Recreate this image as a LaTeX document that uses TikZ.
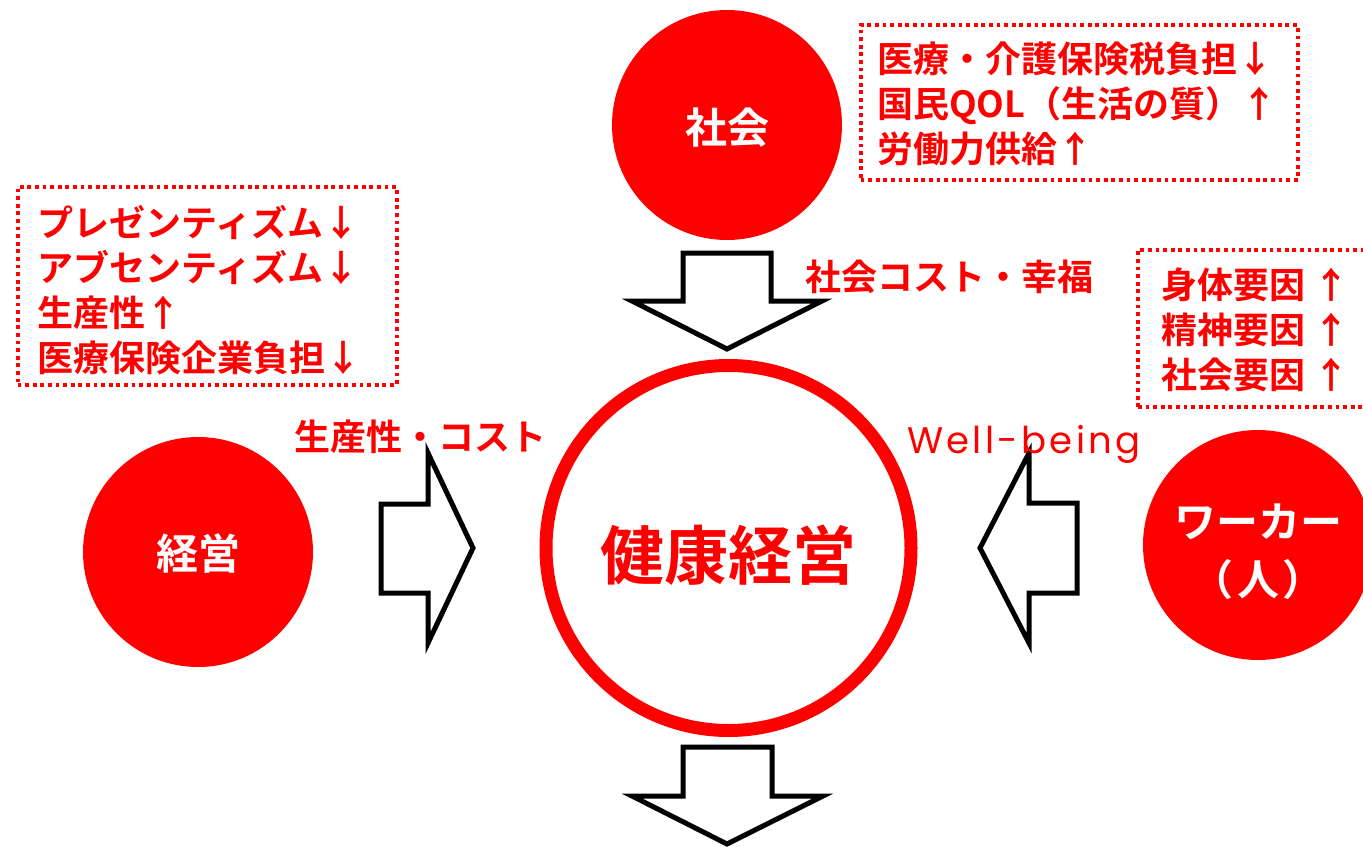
\documentclass[tikz,border=0pt]{standalone}
\usepackage{fontspec}
\newfontfamily\jp{Noto Sans CJK JP}[BoldFont={Noto Sans CJK JP Bold}]
\newfontfamily\wb{Poppins}[LetterSpace=9]
\definecolor{pr}{RGB}{255,0,0}
\begin{document}
\begin{tikzpicture}[x=1pt,y=-1pt,
  disc/.style={circle,fill=pr,inner sep=0pt,minimum size=230pt},
  ring/.style={circle,draw=pr,line width=13pt,inner sep=0pt,minimum size=365pt},
  wtxt/.style={text=white,font=\jp\bfseries\fontsize{42}{58}\selectfont,align=center},
  rtxt/.style={text=pr,font=\jp\bfseries\fontsize{36}{45}\selectfont,align=left,inner sep=0pt},
  dbox/.style={draw=pr,line width=4pt,dash pattern=on 3.8pt off 3.8pt,inner sep=0pt},
  blk/.style={draw=black,line width=5pt,fill=white,line join=miter,miter limit=10}]
\useasboundingbox (0,0) rectangle (1363,851);
% circles
\node[disc] (soc) at (727,125) {};
\node[wtxt] (soct) at (727,128) {社会};
\node[disc] (mgmt) at (198,552) {};
\node[wtxt] (mgmtt) at (198,554) {経営};
\node[disc] (wk) at (1258,545) {};
\node[wtxt] (wkt) at (1258,552) {ワーカー\\（\kern4pt 人\kern4pt）};
\node[ring] (core) at (728.5,548) {};
\node[text=pr,font=\jp\bfseries\fontsize{64}{70}\selectfont] (coret) at (728,555) {健康経営};
% block arrows
\draw[blk] (683,253) -- (771,253) -- (771,301) -- (822,301) -- (727,349) -- (632,301) -- (683,301) -- cycle;
\draw[blk] (683,747) -- (772,747) -- (772,796) -- (823,796) -- (727,844) -- (632,796) -- (683,796) -- cycle;
\draw[blk] (381,504) -- (428,504) -- (428,453) -- (473,548) -- (428,643) -- (428,593) -- (381,593) -- cycle;
\draw[blk] (1077,503) -- (1029,503) -- (1029,453) -- (980,548) -- (1029,643) -- (1029,593) -- (1077,593) -- cycle;
% labels
\node[rtxt,anchor=west] (lsoc) at (805,277) {社会コスト・幸福};
\node[rtxt,anchor=west] (lmgmt) at (294,437) {生産性・コスト};
\node[text=pr,font=\wb\fontsize{37}{40}\selectfont,anchor=base west,inner sep=0pt] (lwb) at (907,453) {Well-being};
% dotted boxes
\node[dbox,minimum width=437pt,minimum height=155pt] (b1) at (1079,102.5) {};
\node[rtxt,anchor=west] (t1) at (877,104) {医療・介護保険税負担↓\\国民QOL（生活の質）↑\\労働力供給↑};
\node[dbox,minimum width=379pt,minimum height=198pt] (b2) at (207,286) {};
\node[rtxt,anchor=west] (t2) at (37,290) {プレゼンティズム↓\\アブセンティズム↓\\生産性↑\\医療保険企業負担↓};
\node[dbox,minimum width=240pt,minimum height=157pt] (b3) at (1258,328.5) {};
\node[rtxt,anchor=west] (t3) at (1161,330) {身体要因 ↑\\精神要因 ↑\\社会要因 ↑};
\end{tikzpicture}
\end{document}
